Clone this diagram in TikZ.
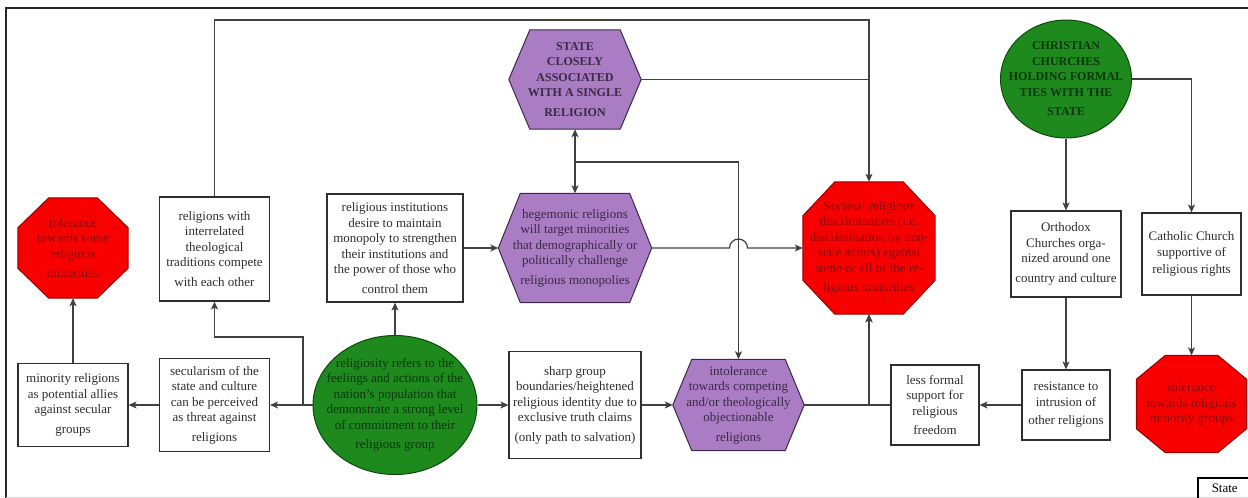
\documentclass[tikz,border=0pt]{standalone}
\usepackage{fontspec}
\setmainfont{Liberation Serif}
\usetikzlibrary{arrows.meta,shapes.geometric,backgrounds,calc}
\definecolor{purp}{HTML}{A97CC4}
\definecolor{purpd}{HTML}{3A2A45}
\definecolor{grn}{HTML}{1E8A1E}
\definecolor{grnd}{HTML}{0E4A0E}
\definecolor{grntxt}{HTML}{0B360B}
\definecolor{rd}{HTML}{F80000}
\definecolor{rdd}{HTML}{9A0000}
\definecolor{rdtxt}{HTML}{8A0A0A}
\definecolor{ln}{HTML}{404040}
\definecolor{txt}{HTML}{2E2E2E}
\newcommand\octbg[3]{\filldraw[redshape] ([xshift=#2pt]#1.north west) -- ([xshift=-#2pt]#1.north east) -- ([yshift=-#3pt]#1.north east) -- ([yshift=#3pt]#1.south east) -- ([xshift=-#2pt]#1.south east) -- ([xshift=#2pt]#1.south west) -- ([yshift=#3pt]#1.south west) -- ([yshift=-#3pt]#1.north west) -- cycle;}
\newcommand\hexbg[2]{\filldraw[hexshape] (#1.west) -- ([xshift=#2pt]#1.north west) -- ([xshift=-#2pt]#1.north east) -- (#1.east) -- ([xshift=-#2pt]#1.south east) -- ([xshift=#2pt]#1.south west) -- cycle;}
\tikzset{
 base/.style={font=\fontsize{13}{15.5}\selectfont, align=center, inner sep=0pt},
 box/.style={base, draw=txt, line width=1.1pt, fill=white, text=txt},
 hexnode/.style={base, text=purpd},
 hexbold/.style={base, text=purpd, font=\fontsize{12}{15.5}\selectfont\bfseries},
 octnode/.style={base, text=rdtxt},
 hexshape/.style={fill=purp, draw=purpd, line width=1pt},
 redshape/.style={fill=rd, draw=rdd, line width=1pt},
 greenshape/.style={ellipse, fill=grn, draw=grnd, line width=1pt, inner sep=0pt},
 gtext/.style={base, text=grntxt},
 gbold/.style={base, text=grntxt, font=\fontsize{12}{15.5}\selectfont\bfseries},
 conn/.style={draw=ln, line width=1.2pt, -{Stealth[length=8pt,width=7pt,inset=2pt]}},
 dconn/.style={draw=ln, line width=1.2pt, {Stealth[length=8pt,width=7pt,inset=2pt]}-{Stealth[length=8pt,width=7pt,inset=2pt]}},
 plain/.style={draw=ln, line width=1.2pt},
}
\begin{document}
\begin{tikzpicture}[x=1pt,y=-1pt]
\useasboundingbox (0,0) rectangle (1248,498);
% frame
\draw[line width=2pt, black!85] (6,510) -- (6,8) -- (1260,8);
\draw[black!15, line width=1pt] (6,497.5) -- (1248,497.5);

% nodes
\node[octnode, minimum width=110pt, minimum height=100pt] (tolA) at (73,248) {tolerance\\towards some\\religious\\[4pt]minorities};
\node[box, minimum width=110pt, minimum height=83pt] (minor) at (73,405) {minority religions\\as potential allies\\against secular\\[4pt]groups};
\node[box, minimum width=110pt, minimum height=93pt] (secul) at (214.5,405) {secularism of the\\state and culture\\can be perceived\\as threat against\\[4pt]religions};
\node[box, minimum width=110pt, minimum height=104pt] (compete) at (214.5,249) {religions with\\interrelated\\theological\\traditions compete\\[4pt]with each other};
\node[greenshape, minimum width=164pt, minimum height=139pt] (relig) at (395,405) {};
\node[gtext] (religtxt) at (relig.center) {religiosity refers to the\\feelings and actions of the\\nation's population that\\demonstrate a strong level\\of commitment to their\\[4pt]religious group};
\node[box, minimum width=136pt, minimum height=108pt] (inst) at (395,248) {religious institutions\\desire to maintain\\monopoly to strengthen\\their institutions and\\the power of those who\\[4pt]control them};
\node[hexnode, minimum width=153pt, minimum height=109pt] (hegem) at (575,248) {hegemonic religions\\will target minorities\\that demographically or\\politically challenge\\[4pt]religious monopolies};
\node[hexbold, minimum width=132pt, minimum height=99pt] (state) at (575,79.5) {STATE\\CLOSELY\\ASSOCIATED\\WITH A SINGLE\\[4pt]RELIGION};
\node[box, minimum width=132pt, minimum height=107pt] (sharp) at (575,405) {sharp group\\boundaries/heightened\\religious identity due to\\exclusive truth claims\\[4pt](only path to salvation)};
\node[hexnode, minimum width=131pt, minimum height=91pt] (intol) at (738.5,405) {intolerance\\towards competing\\and/or theologically\\objectionable\\[4pt]religions};
\node[octnode, minimum width=132pt, minimum height=132pt] (societal) at (869,248) {Societal religious\\discrimination (i.e.\\discrimination by non-\\state actors) against\\some or all of the re-\\[4pt]ligious minorities};
\node[box, minimum width=88pt, minimum height=80pt] (lessf) at (935,405) {less formal\\support for\\religious\\[4pt]freedom};
\node[box, minimum width=88pt, minimum height=70pt] (resist) at (1066,405) {resistance to\\intrusion of\\[3pt]other religions};
\node[box, minimum width=110pt, minimum height=86pt] (ortho) at (1066,254) {Orthodox\\Churches orga-\\nized around one\\[4pt]country and culture};
\node[box, minimum width=99pt, minimum height=82pt] (cath) at (1191.5,254) {Catholic Church\\supportive of\\[2pt]religious rights};
\node[octnode, minimum width=110pt, minimum height=97pt] (tolB) at (1191.5,404) {tolerance\\towards religious\\minority groups};
\node[greenshape, minimum width=131pt, minimum height=118pt] (christ) at (1066,79) {};
\node[gbold] (christtxt) at (christ.center) {CHRISTIAN\\CHURCHES\\HOLDING FORMAL\\TIES WITH THE\\[4pt]STATE};
\node[draw, line width=1.5pt, anchor=north west, inner xsep=14pt, inner ysep=6pt, text depth=20pt, font=\fontsize{13}{15.5}\selectfont] (statelbl) at (1197,477) {State};

% shape backgrounds
\begin{pgfonlayer}{background}
\octbg{tolA}{31}{30}
\octbg{societal}{32}{34}
\octbg{tolB}{29}{24}
\hexbg{hegem}{22}
\hexbg{state}{21}
\hexbg{intol}{19}
\end{pgfonlayer}

% connectors
\coordinate (j1) at (303,337);
\coordinate (j2) at (575,162);
\coordinate (topline) at (214.5,20);
\draw[conn] (relig.west) -- (secul.east);
\draw[conn] (secul.west) -- (minor.east);
\draw[conn] (minor.north) -- (tolA.south);
\draw[conn] (relig.west) -| (j1) -| (compete.south);
\draw[conn] (relig.north) -- (inst.south);
\draw[conn] (relig.east) -- (sharp.west);
\draw[conn] (sharp.east) -- (intol.west);
\draw[conn] (inst.east) -- (hegem.west);
\draw[dconn] (state.south) -- (hegem.north);
\draw[conn] (j2) -| (intol.north);
\coordinate (jx) at (intol.north |- hegem.east);
\draw[conn] (hegem.east) -- ([xshift=-9pt]jx) arc[start angle=180, end angle=360, radius=9] -- (societal.west);
\draw[conn] (compete.north) -- (topline) -| (societal.north);
\draw[plain] (state.east) -- (state.east -| societal.north);
\draw[conn] (intol.east) -| (societal.south);
\draw[conn] (lessf.west) -| (societal.south);
\draw[conn] (resist.west) -- (lessf.east);
\draw[conn] (ortho.south) -- (resist.north);
\draw[conn] (christ.south) -- (ortho.north);
\draw[conn] (christ.east) -| (cath.north);
\draw[conn] (cath.south) -- (tolB.north);
\end{tikzpicture}
\end{document}
